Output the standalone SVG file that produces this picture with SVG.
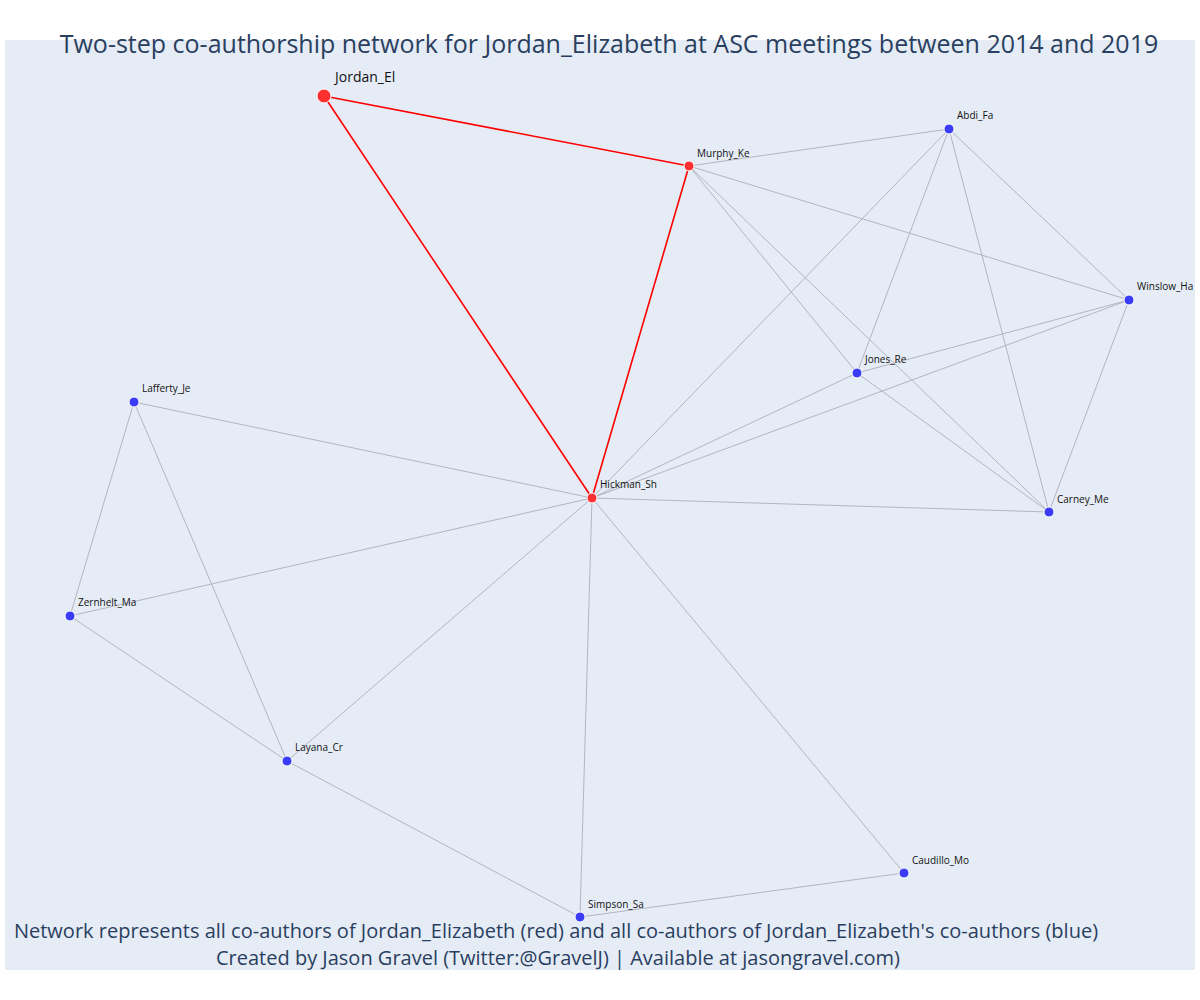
<svg xmlns="http://www.w3.org/2000/svg" width="1200" height="1000" viewBox="0 0 1200 1000">
<style>
.bg{fill:#e5ecf6}
.title{font-family:"Open Sans","Liberation Sans",sans-serif;font-size:25px;fill:#2a3f5f}
.foot{font-family:"Open Sans","Liberation Sans",sans-serif;font-size:20px;fill:#2a3f5f}
.lbl{font-family:"Open Sans","Liberation Sans",sans-serif;font-size:10px;fill:#111}
.lblbig{font-family:"Open Sans","Liberation Sans",sans-serif;font-size:14px;fill:#111}
.e{stroke:#b4b4be;stroke-width:1;fill:none}
.r{stroke:#ff0000;stroke-width:1.6;fill:none}
.nb{fill:#3a3cf5;stroke:#ffffff;stroke-width:1}
.nr{fill:#ff3030;stroke:#ffffff;stroke-width:1}
</style>
<rect x="0" y="0" width="1200" height="1000" fill="#ffffff"/>
<rect class="bg" x="5" y="40" width="1190" height="930"/>
<g id="connectors">
<line class="e" x1="689" y1="166" x2="949" y2="129"/>
<line class="e" x1="689" y1="166" x2="1129" y2="300"/>
<line class="e" x1="689" y1="166" x2="857" y2="373"/>
<line class="e" x1="689" y1="166" x2="1049" y2="512"/>
<line class="e" x1="949" y1="129" x2="592" y2="498"/>
<line class="e" x1="949" y1="129" x2="857" y2="373"/>
<line class="e" x1="949" y1="129" x2="1049" y2="512"/>
<line class="e" x1="949" y1="129" x2="1129" y2="300"/>
<line class="e" x1="1129" y1="300" x2="857" y2="373"/>
<line class="e" x1="1129" y1="300" x2="592" y2="498"/>
<line class="e" x1="1129" y1="300" x2="1049" y2="512"/>
<line class="e" x1="857" y1="373" x2="592" y2="498"/>
<line class="e" x1="857" y1="373" x2="1049" y2="512"/>
<line class="e" x1="592" y1="498" x2="1049" y2="512"/>
<line class="e" x1="592" y1="498" x2="134" y2="402"/>
<line class="e" x1="592" y1="498" x2="70" y2="616"/>
<line class="e" x1="592" y1="498" x2="287" y2="761"/>
<line class="e" x1="592" y1="498" x2="580" y2="917"/>
<line class="e" x1="592" y1="498" x2="904" y2="873"/>
<line class="e" x1="134" y1="402" x2="70" y2="616"/>
<line class="e" x1="134" y1="402" x2="287" y2="761"/>
<line class="e" x1="70" y1="616" x2="287" y2="761"/>
<line class="e" x1="287" y1="761" x2="580" y2="917"/>
<line class="e" x1="580" y1="917" x2="904" y2="873"/>
<line class="r" x1="324" y1="96" x2="689" y2="166"/>
<line class="r" x1="324" y1="96" x2="592" y2="498"/>
<line class="r" x1="689" y1="166" x2="592" y2="498"/>
</g>
<g id="node-jordan"><circle class="nr" cx="324" cy="96" r="7"/><text class="lblbig" x="335" y="82">Jordan_El</text></g>
<g id="node-murphy"><circle class="nr" cx="689" cy="166" r="5"/><text class="lbl" x="697" y="157">Murphy_Ke</text></g>
<g id="node-hickman"><circle class="nr" cx="592" cy="498" r="5"/><text class="lbl" x="600" y="488">Hickman_Sh</text></g>
<g id="node-abdi"><circle class="nb" cx="949" cy="129" r="5"/><text class="lbl" x="957" y="119">Abdi_Fa</text></g>
<g id="node-winslow"><circle class="nb" cx="1129" cy="300" r="5"/><text class="lbl" x="1137" y="290">Winslow_Ha</text></g>
<g id="node-jones"><circle class="nb" cx="857" cy="373" r="5"/><text class="lbl" x="865" y="363">Jones_Re</text></g>
<g id="node-carney"><circle class="nb" cx="1049" cy="512" r="5"/><text class="lbl" x="1057" y="503">Carney_Me</text></g>
<g id="node-lafferty"><circle class="nb" cx="134" cy="402" r="5"/><text class="lbl" x="142" y="392">Lafferty_Je</text></g>
<g id="node-zernhelt"><circle class="nb" cx="70" cy="616" r="5"/><text class="lbl" x="78" y="606">Zernhelt_Ma</text></g>
<g id="node-layana"><circle class="nb" cx="287" cy="761" r="5"/><text class="lbl" x="295" y="751">Layana_Cr</text></g>
<g id="node-caudillo"><circle class="nb" cx="904" cy="873" r="5"/><text class="lbl" x="912" y="864">Caudillo_Mo</text></g>
<g id="node-simpson"><circle class="nb" cx="580" cy="917" r="5"/><text class="lbl" x="588" y="908">Simpson_Sa</text></g>
<text class="title" x="609" y="53" text-anchor="middle">Two-step co-authorship network for Jordan_Elizabeth at ASC meetings between 2014 and 2019</text>
<text class="foot" x="556" y="938" text-anchor="middle">Network represents all co-authors of Jordan_Elizabeth (red) and all co-authors of Jordan_Elizabeth's co-authors (blue)</text>
<text class="foot" x="558" y="965" text-anchor="middle">Created by Jason Gravel (Twitter:@GravelJ) | Available at jasongravel.com)</text>
</svg>
